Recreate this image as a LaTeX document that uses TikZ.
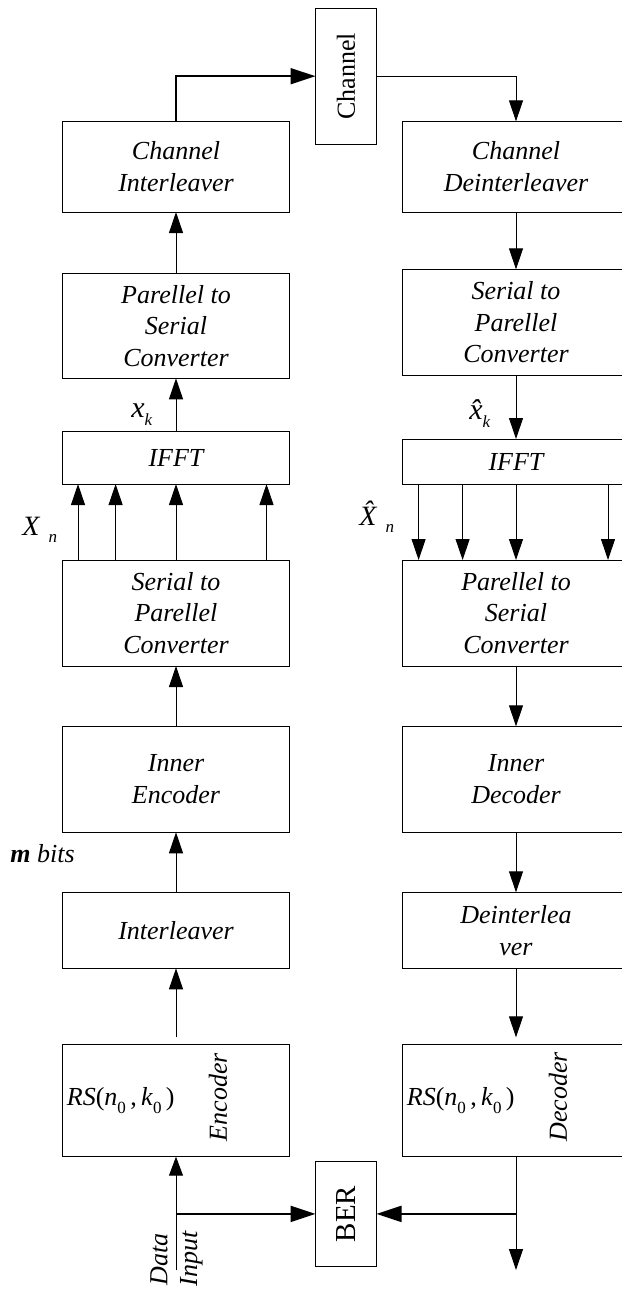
\documentclass[tikz,border=0pt]{standalone}
\usepackage{fontspec}
\setmainfont{Liberation Serif}
\usepackage{tikz}
\usetikzlibrary{arrows.meta, calc}

\tikzset{
  blk/.style={draw, line width=0.5pt, minimum width=113.5pt, inner sep=0pt, outer sep=0pt,
              align=center, font=\fontsize{13}{15.8}\selectfont\itshape},
  rotbox/.style={draw, line width=0.5pt, minimum width=30.5pt, inner sep=0pt, outer sep=0pt},
  link/.style={line width=0.5pt, -{Triangle[length=10.5pt, width=7pt]}},
  thicklink/.style={line width=0.9pt, -{Triangle[length=12.5pt, width=8pt]}},
  lbl/.style={inner sep=0pt, font=\fontsize{13}{15.8}\selectfont\itshape},
}
\newcommand{\lowidx}[1]{\raisebox{-0.6ex}{\fontsize{8.5}{9}\selectfont #1}}
\newcommand{\rscode}{\textit{RS}\upshape(\textit{n}\lowidx{0}\,,\,\textit{k}\lowidx{0}\,)}

\begin{document}
\begin{tikzpicture}[x=0.5pt, y=-0.5pt]
\useasboundingbox (0,0) rectangle (621,1289);

% transmitter side
\node[blk, minimum height=45.35pt] (chint) at (176,166.7) {Channel\\Interleaver};
\node[blk, minimum height=52.5pt]  (ps1)   at (176,325.8) {Parellel to\\Serial\\Converter};
\node[blk, minimum height=26.15pt] (ifft1) at (176,457.9) {IFFT};
\node[blk, minimum height=53pt]    (sp1)   at (176,613)   {Serial to\\Parellel\\Converter};
\node[blk, minimum height=53pt]    (inenc) at (176,779.3) {Inner\\Encoder};
\node[blk, minimum height=38pt]    (intl)  at (176,930.3) {Interleaver};
\node[blk, minimum height=56.2pt]  (rsenc) at (176,1100.5) {};

% receiver side
\node[blk, minimum height=45.35pt] (chdeint) at (516,166.7) {Channel\\Deinterleaver};
\node[blk, minimum height=52.85pt] (sp2)     at (516,322.2) {Serial to\\Parellel\\Converter};
\node[blk, minimum height=22.5pt]  (ifft2)   at (516,461.5) {IFFT};
\node[blk, minimum height=53pt]    (ps2)     at (516,613)   {Parellel to\\Serial\\Converter};
\node[blk, minimum height=53pt]    (indec)   at (516,779.3) {Inner\\Decoder};
\node[blk, minimum height=38pt]    (deint)   at (516,930.3) {Deinterlea\\ver};
\node[blk, minimum height=56.2pt]  (rsdec)   at (516,1100.5) {};

% channel and BER
\node[rotbox, minimum height=68.15pt, font=\fontsize{13}{15}\selectfont] (chan) at (346,76.2) {\rotatebox{90}{Channel}};
\node[rotbox, minimum height=52.85pt, font=\fontsize{14.5}{16}\selectfont] (ber) at (346,1213.9) {\rotatebox{90}{BER}};

% labels
\node[lbl, anchor=west] (rsl) at ([xshift=2pt]rsenc.west) {\rscode};
\node[lbl, anchor=west] (rsr) at ([xshift=2pt]rsdec.west) {\rscode};
\node[lbl, rotate=90] (enclbl) at (218,1097) {Encoder};
\node[lbl, rotate=90] (declbl) at (558,1097) {Decoder};
\node[lbl, anchor=base west, font=\fontsize{15}{16}\selectfont\itshape] (xk) at (131,417) {x\lowidx{\textit{k}}};
\node[lbl, anchor=base west, font=\fontsize{15}{16}\selectfont\itshape] (xhk) at (469,419) {\^{x}\lowidx{\textit{k}}};
\node[lbl, anchor=base west, font=\fontsize{14}{16}\selectfont\itshape] (xn) at (22,535) {X\hspace{4.5pt}\lowidx{\textit{n}}};
\node[lbl, anchor=base west, font=\fontsize{14}{16}\selectfont\itshape] (xhn) at (359,525) {\^{X}\hspace{4.5pt}\lowidx{\textit{n}}};
\node[lbl, anchor=base west] (mbits) at (10,862) {\textbf{m} bits};
\node[lbl, rotate=90] (data) at (159,1259) {Data};
\node[lbl, rotate=90] (inp) at (191.5,1259) {Input};

\coordinate (din) at (176,1270);
\coordinate (dout) at (516,1270);

% connectors, transmitter
\draw[thicklink] (chint.north) |- (chan.west);
\draw[link] (ps1.north) -- (chint.south);
\draw[link] (ifft1.north) -- (ps1.south);
\foreach \dx in {-98,-60.4,0,90.5}
  \draw[link] ([xshift=\dx*0.5pt]sp1.north) -- ([xshift=\dx*0.5pt]ifft1.south);
\draw[link] (inenc.north) -- (sp1.south);
\draw[link] (intl.north) -- (inenc.south);
\draw[link, shorten <=3.5pt] (rsenc.north) -- (intl.south);
\draw[link, -{Triangle[length=9.5pt, width=7pt]}] (din) -- (rsenc.south);
\draw[thicklink] (din |- ber.west) -- (ber.west);

% connectors, receiver
\draw[link] (chan.east) -| (chdeint.north);
\draw[link] (chdeint.south) -- (sp2.north);
\draw[link] (sp2.south) -- (ifft2.north);
\foreach \dx in {-97.4,-53.4,0,92}
  \draw[link] ([xshift=\dx*0.5pt]ifft2.south) -- ([xshift=\dx*0.5pt]ps2.north);
\draw[link] (ps2.south) -- (indec.north);
\draw[link] (indec.south) -- (deint.north);
\draw[link, shorten >=3.5pt] (deint.south) -- (rsdec.north);
\draw[link] (rsdec.south) -- (dout);
\draw[thicklink] (dout |- ber.east) -- (ber.east);
\end{tikzpicture}
\end{document}
